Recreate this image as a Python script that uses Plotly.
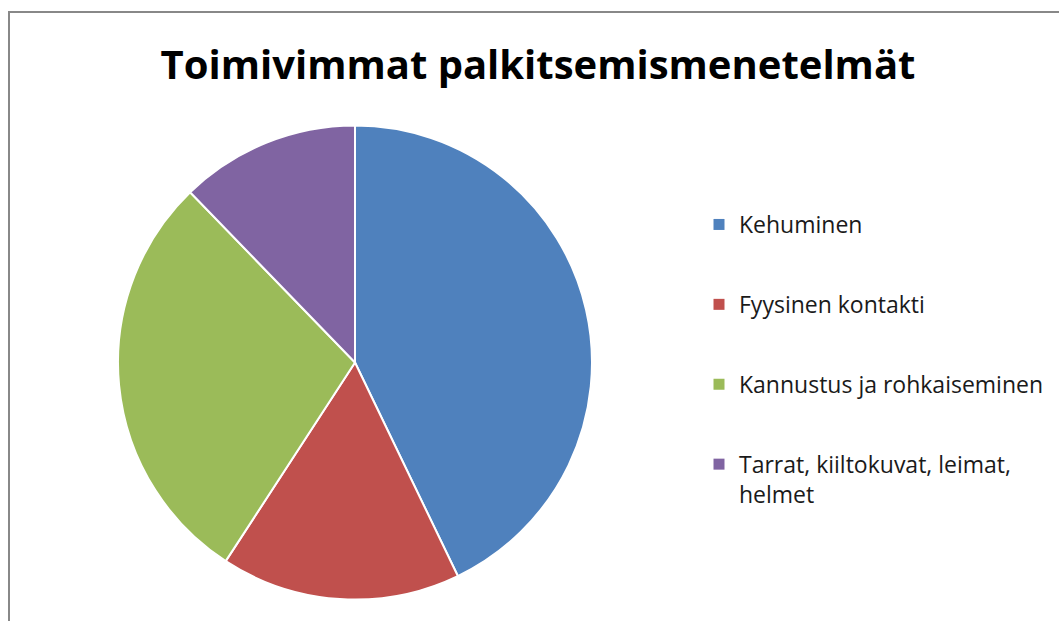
import plotly.graph_objects as go

labels = ['Kehuminen', 'Fyysinen kontakti', 'Kannustus ja rohkaiseminen',
          'Tarrat, kiiltokuvat, leimat,<br>helmet']
values = [21, 8, 14, 6]
colors = ['#4F81BD', '#C0504D', '#9BBB59', '#8064A2']

W, H = 1059, 621

fig = go.Figure()

# pie itself, legend drawn by dummy traces so the spacing can be set
fig.add_trace(go.Pie(labels=labels, values=values, sort=False,
                     direction='clockwise', rotation=0,
                     marker=dict(colors=colors, line=dict(color='white', width=2)),
                     textinfo='none', showlegend=False,
                     domain=dict(x=[(355 - 237) / W, (355 + 237) / W],
                                 y=[(621 - 600) / H, (621 - 125) / H])))

for lab, col in zip(labels, colors):
    fig.add_trace(go.Scatter(x=[None], y=[None], mode='markers', name=lab,
                             marker=dict(symbol='square', size=11, color=col),
                             legendgroup=lab))

fig.update_layout(
    width=W, height=H,
    margin=dict(l=0, r=0, t=0, b=0),
    paper_bgcolor='white', plot_bgcolor='white',
    xaxis=dict(visible=False), yaxis=dict(visible=False),
    title=dict(text='<b>Toimivimmat palkitsemismenetelmät</b>',
               x=538 / W, xanchor='center', y=1 - 65 / H, yanchor='middle',
               font=dict(family='Open Sans', size=40, color='black')),
    legend=dict(x=699 / W, y=1 - 203 / H, xanchor='left', yanchor='top',
                font=dict(family='Open Sans', size=23, color='#1a1a1a'),
                tracegroupgap=47, valign='top', itemwidth=30),
    shapes=[dict(type='rect', xref='paper', yref='paper',
                 x0=9 / W, x1=1.2, y0=-0.2, y1=1 - 12 / H,
                 line=dict(color='#888888', width=2))],
)

fig.write_html('out.html', config={'displayModeBar': False},
               post_script="document.body.style.margin='0';document.body.style.overflow='hidden';")
